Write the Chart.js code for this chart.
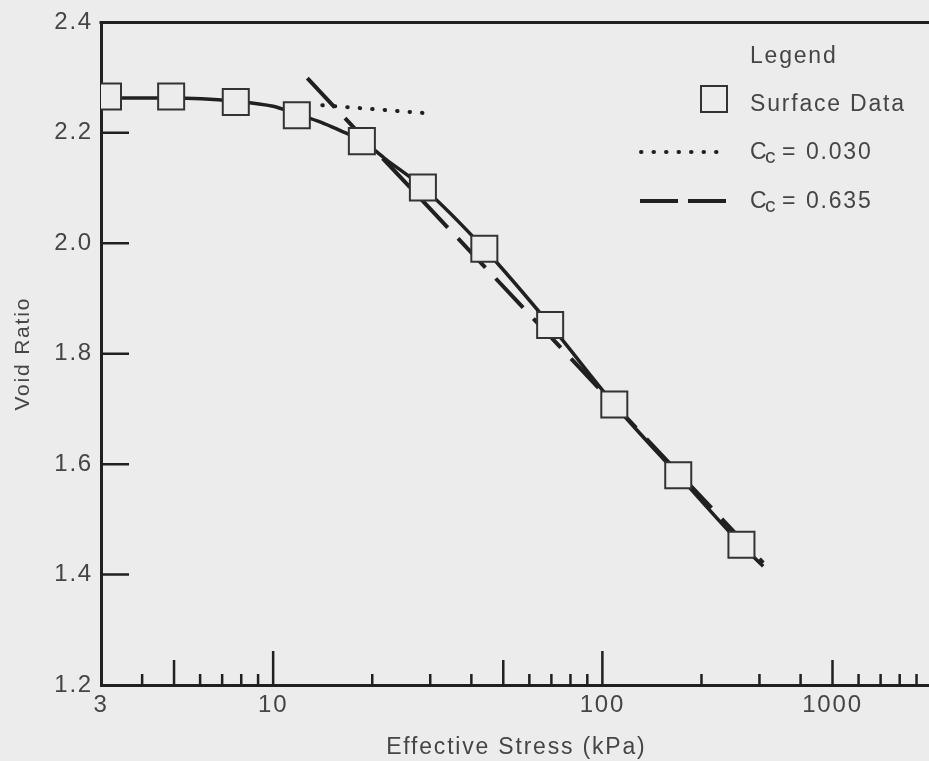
<!DOCTYPE html>
<html>
<head>
<meta charset="utf-8">
<script src="https://cdn.jsdelivr.net/npm/chart.js@4.4.1/dist/chart.umd.min.js"></script>
<style>
  html, body { margin: 0; padding: 0; background: #ececec; overflow: hidden; }
  #wrap { position: relative; width: 952px; height: 761px; }
</style>
</head>
<body>
<div id="wrap"><canvas id="chart"></canvas></div>
<script>
// surface data (squares)
const stress = [3.15, 4.9, 7.7, 11.8, 18.6, 28.5, 43.8, 69.4, 108.7, 170, 264.5];
const voidRatio = [2.266, 2.266, 2.256, 2.232, 2.185, 2.101, 1.990, 1.852, 1.708, 1.580, 1.454];

// smooth curve drawn through the data
const curveStress = [3.15, 4.9, 7.7, 10, 11.8, 14, 16, 18.6, 22, 28.5, 43.8, 69.4, 108.7, 170, 264.5, 308];
const curveVoid = [2.263, 2.263, 2.257, 2.248, 2.234, 2.219, 2.204, 2.186, 2.152, 2.101, 1.990, 1.852, 1.708, 1.580, 1.454, 1.415];

// compression index lines
const ccLowStress = [14.1, 28.6];
const ccLowVoid = [2.250, 2.236];
const ccHighStress = [12.7, 308];
const ccHighVoid = [2.299, 1.421];

// axis ticks
const yTicks = [1.2, 1.4, 1.6, 1.8, 2.0, 2.2, 2.4];
const xTicks = [3, 4, 5, 6, 7, 8, 9, 10, 20, 30, 40, 50, 60, 70, 80, 90, 100, 200, 300, 400, 500, 600, 700, 800, 900];
const xLabelValues = [3, 10, 100, 500];
const xLabelText = ['3', '10', '100', '1000'];

const BG = '#ececec';
const INK = '#202020';
const TEXT = '#454545';
const FONT = '"Liberation Sans", Arial, sans-serif';

const toPoints = (xs, ys) => xs.map((x, i) => ({ x: x, y: ys[i] }));

// ticks drawn inward from the axes, and the top frame line
const innerTicks = {
    id: 'innerTicks',
    beforeDatasetsDraw(chart) {
        const { ctx, chartArea, scales: { x, y } } = chart;
        ctx.save();
        ctx.strokeStyle = INK;
        ctx.lineWidth = 2.5;
        ctx.beginPath();
        xTicks.forEach(v => {
            if (v === x.min) return;
            const px = x.getPixelForValue(v);
            const m = v / Math.pow(10, Math.floor(Math.log10(v) + 1e-9));
            const len = Math.abs(m - 1) < 1e-6 ? 34 : (Math.abs(m - 5) < 1e-6 ? 25 : 11);
            ctx.moveTo(px, chartArea.bottom);
            ctx.lineTo(px, chartArea.bottom - len);
        });
        yTicks.forEach(v => {
            if (v === y.min || v === y.max) return;
            const py = y.getPixelForValue(v);
            ctx.moveTo(chartArea.left, py);
            ctx.lineTo(chartArea.left + 28, py);
        });
        ctx.stroke();
        ctx.lineWidth = 3;
        ctx.beginPath();
        ctx.moveTo(chartArea.left - 1.5, chartArea.top);
        ctx.lineTo(chart.width, chartArea.top);
        ctx.stroke();
        ctx.restore();
    }
};

const spacing = {
    id: 'spacing',
    beforeDraw(chart) {
        chart.ctx.letterSpacing = '1.8px';
    }
};

// legend block in the upper right
const legendBox = {
    id: 'legendBox',
    afterDraw(chart) {
        const ctx = chart.ctx;
        ctx.save();
        ctx.letterSpacing = '1.8px';
        ctx.font = '23px ' + FONT;
        ctx.textBaseline = 'alphabetic';
        ctx.textAlign = 'left';
        ctx.fillStyle = TEXT;
        ctx.fillText('Legend', 750, 63);

        ctx.fillStyle = BG;
        ctx.strokeStyle = '#333';
        ctx.lineWidth = 2;
        ctx.fillRect(701, 86, 26, 26);
        ctx.strokeRect(701, 86, 26, 26);
        ctx.fillStyle = TEXT;
        ctx.fillText('Surface Data', 750, 111);

        // dotted sample
        ctx.strokeStyle = INK;
        ctx.lineWidth = 4;
        ctx.lineCap = 'round';
        ctx.setLineDash([0.5, 12]);
        ctx.beginPath();
        ctx.moveTo(641, 152);
        ctx.lineTo(727, 152);
        ctx.stroke();

        // dashed sample
        ctx.lineCap = 'butt';
        ctx.setLineDash([38, 10]);
        ctx.beginPath();
        ctx.moveTo(640, 201);
        ctx.lineTo(726, 201);
        ctx.stroke();
        ctx.setLineDash([]);

        const ccLabel = (value, base) => {
            ctx.fillText('C', 750, base);
            ctx.font = '21px ' + FONT;
            ctx.fillText('c', 765, base + 4);
            ctx.font = '23px ' + FONT;
            ctx.fillText('=', 782, base);
            ctx.fillText(value, 806, base);
        };
        ccLabel('0.030', 159);
        ccLabel('0.635', 208);
        ctx.restore();
    }
};

const ctx = document.getElementById('chart').getContext('2d');
new Chart(ctx, {
    type: 'scatter',
    data: {
        datasets: [
            {
                label: 'Surface Data',
                data: toPoints(stress, voidRatio),
                pointStyle: 'rect',
                pointRadius: 18.4,
                pointBackgroundColor: BG,
                pointBorderColor: '#333',
                pointBorderWidth: 2,
                showLine: false
            },
            {
                label: 'curve',
                data: toPoints(curveStress, curveVoid),
                showLine: true,
                borderColor: INK,
                borderWidth: 3.5,
                cubicInterpolationMode: 'monotone',
                pointRadius: 0
            },
            {
                label: 'Cc = 0.635',
                data: toPoints(ccHighStress, ccHighVoid),
                showLine: true,
                borderColor: INK,
                borderWidth: 4,
                borderDash: [40, 15],
                pointRadius: 0
            },
            {
                label: 'Cc = 0.030',
                data: toPoints(ccLowStress, ccLowVoid),
                showLine: true,
                borderColor: INK,
                borderWidth: 4,
                borderDash: [0.5, 12],
                borderCapStyle: 'round',
                pointRadius: 0
            }
        ]
    },
    options: {
        responsive: true,
        maintainAspectRatio: false,
        animation: false,
        events: [],
        layout: { padding: { left: 0, right: 7, top: 22, bottom: 0 } },
        plugins: {
            legend: { display: false },
            tooltip: { enabled: false }
        },
        scales: {
            x: {
                type: 'logarithmic',
                min: 3,
                max: 1000,
                afterBuildTicks: scale => { scale.ticks = xTicks.map(v => ({ value: v })); },
                afterFit: scale => { scale.height = 76; },
                grid: { display: false, drawTicks: false },
                border: { display: true, color: INK, width: 3 },
                ticks: {
                    autoSkip: false,
                    maxRotation: 0,
                    padding: 6,
                    color: TEXT,
                    font: { family: FONT, size: 24 },
                    callback: v => {
                        const i = xLabelValues.indexOf(v);
                        return i >= 0 ? xLabelText[i] : '';
                    }
                },
                title: {
                    display: true,
                    text: 'Effective Stress (kPa)',
                    color: TEXT,
                    font: { family: FONT, size: 23 },
                    padding: { top: 0, bottom: 0 }
                }
            },
            y: {
                min: 1.2,
                max: 2.4,
                afterBuildTicks: scale => { scale.ticks = yTicks.map(v => ({ value: v })); },
                afterFit: scale => { scale.width = 101; },
                grid: { display: false, drawTicks: false },
                border: { display: true, color: INK, width: 3 },
                ticks: {
                    padding: 8,
                    color: TEXT,
                    font: { family: FONT, size: 24 },
                    callback: v => v.toFixed(1)
                },
                title: {
                    display: true,
                    text: 'Void Ratio',
                    color: TEXT,
                    font: { family: FONT, size: 21 },
                    padding: { top: 11, bottom: 0 }
                }
            }
        }
    },
    plugins: [spacing, innerTicks, legendBox]
});
</script>
</body>
</html>
